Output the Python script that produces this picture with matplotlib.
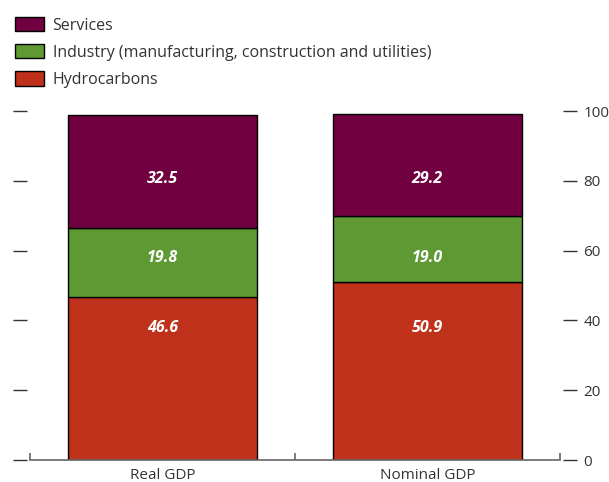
import numpy as np
import matplotlib
matplotlib.use("Agg")
import matplotlib.pyplot as plt
from matplotlib.patches import Patch

plt.rcParams['font.family'] = ['Open Sans', 'DejaVu Sans']

# Composition of GDP by sector (per cent)
categories = ["Real GDP", "Nominal GDP"]
hydrocarbons = [46.6, 50.9]
industry = [19.8, 19.0]
services = [32.5, 29.2]

series_names = ["Hydrocarbons",
                "Industry (manufacturing, construction and utilities)",
                "Services"]
colors = ["#BF311A", "#5E9933", "#700040"]

# heights at which the value labels sit inside each segment
label_levels = [37.8, 58.0, 80.5]

fig = plt.figure(figsize=(6.09, 4.82), dpi=100)
ax = fig.add_axes([30/609, 22/482, 530/609, 349/482])

x = np.arange(len(categories))
bottom = np.zeros(len(categories))
for vals, col, lvl in zip([hydrocarbons, industry, services], colors, label_levels):
    vals = np.array(vals)
    ax.bar(x, vals, width=0.715, bottom=bottom, color=col,
           edgecolor="black", linewidth=1.0, zorder=2)
    for xi, v in zip(x, vals):
        ax.text(xi, lvl, f"{v:.1f}", ha="center", va="center",
                color="white", fontsize=11.5, fontweight="bold",
                fontstyle="italic", zorder=3)
    bottom += vals

ax.set_xlim(-0.5, 1.5)
ax.set_ylim(0, 100)

for s in ["top", "left", "right"]:
    ax.spines[s].set_visible(False)
ax.spines["left"].set_position(("outward", 2.2))
ax.spines["right"].set_position(("outward", 2.2))
ax.spines["bottom"].set_color("#666666")
ax.spines["bottom"].set_linewidth(1.2)

ax.set_yticks(np.arange(0, 101, 20))
ax.tick_params(axis="y", which="major", left=True, right=True,
               labelleft=False, labelright=True, direction="out",
               length=10, width=1.0, color="#333333", pad=4.5,
               labelsize=11, labelcolor="#333333")

ax.set_xticks(x)
ax.set_xticklabels(categories)
ax.tick_params(axis="x", which="major", length=0, pad=6,
               labelsize=11, labelcolor="#333333")
ax.set_xticks([-0.5, 0.5, 1.5], minor=True)
ax.tick_params(axis="x", which="minor", direction="in", length=5,
               width=1.2, color="#666666")

handles = [Patch(facecolor=c, edgecolor="black", linewidth=1.0)
           for c in colors[::-1]]
fig.legend(handles, series_names[::-1], loc="upper left",
           bbox_to_anchor=(15/609, 1 - 17/482), frameon=False,
           fontsize=11.5, handlelength=1.8, handleheight=1.0,
           handletextpad=0.55, labelspacing=0.66, borderpad=0,
           borderaxespad=0, labelcolor="#333333")

fig.savefig("out.png", dpi=100)
